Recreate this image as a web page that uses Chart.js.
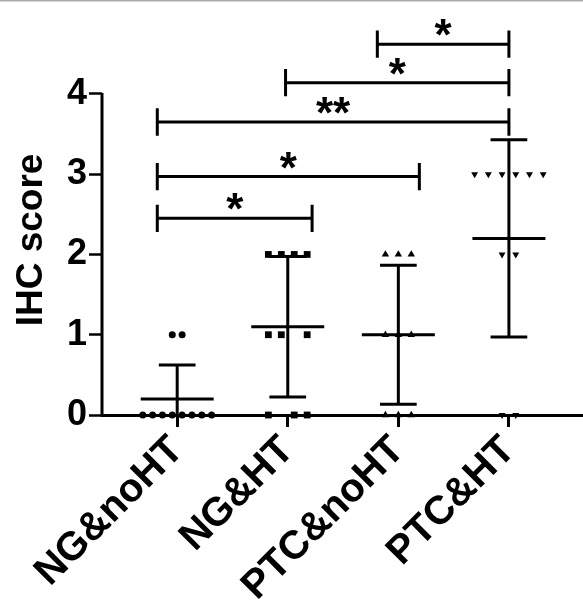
<!DOCTYPE html>
<html><head><meta charset="utf-8">
<script src="https://cdn.jsdelivr.net/npm/chart.js@4/dist/chart.umd.min.js"></script>
<style>html,body{margin:0;padding:0;background:#fff;} canvas{display:block;}</style>
</head><body>
<canvas id="c" width="583" height="610"></canvas>
<script>
// ---- data ----
const categories = ['NG&noHT', 'NG&HT', 'PTC&noHT', 'PTC&HT'];
const valuesNGnoHT  = [0, 0, 0, 0, 0, 0, 0, 0, 1, 1];
const valuesNGHT    = [2, 2, 2, 2, 1, 1, 1, 0, 0, 0];
const valuesPTCnoHT = [2, 2, 2, 1, 1, 1, 0, 0, 0];
const valuesPTCHT   = [3, 3, 3, 3, 3, 3, 2, 2, 0, 0];
const yTickValues = [0, 1, 2, 3, 4];
const sigFrom   = [-0.18, -0.18, -0.18, 0.98, 1.81];
const sigTo     = [1.22, 2.19, 3.0, 3.0, 3.0];
const sigY      = [2.45, 2.97, 3.65, 4.14, 4.62];
const sigLabels = ['*', '*', '**', '*', '*'];

// ---- layout / style ----
const groups = [valuesNGnoHT, valuesNGHT, valuesPTCnoHT, valuesPTCHT];
const jitterSlots = [
  [-3.5, -2.5, -1.5, -0.5, 0.5, 1.5, 2.5, 3.5, -0.5, 0.5],
  [-1.5, -0.5, 0.5, 1.5, -1.5, -0.5, 1.5, -1.5, 0.5, 1.5],
  [-1, 0, 1, -1, 0, 1, -1, 0, 1],
  [-2.5, -1.5, -0.5, 0.5, 1.5, 2.5, -0.5, 0.5, -0.5, 0.5]
];
const jitterStep = [0.089, 0.117, 0.117, 0.124];
const pointStyles = ['circle', 'rect', 'triangle', 'triangle'];
const pointRotations = [0, 0, 0, 180];
const pointRadii = [3.5, 4.8, 4.3, 4.0];
const meanHalf = 0.33, capHalf = 0.166, sigTick = 0.17;
const FONT = 'Liberation Sans, Arial, sans-serif';

function mean(a) { return a.reduce((s, v) => s + v, 0) / a.length; }
function sd(a) { const m = mean(a); return Math.sqrt(a.reduce((s, v) => s + (v - m) * (v - m), 0) / (a.length - 1)); }

const pointDatasets = groups.map((vals, g) => ({
  data: vals.map((v, k) => ({ x: g + jitterSlots[g][k] * jitterStep[g], y: v })),
  pointStyle: pointStyles[g],
  rotation: pointRotations[g],
  pointRadius: pointRadii[g],
  pointBackgroundColor: '#000',
  pointBorderColor: '#000',
  pointBorderWidth: 0,
  showLine: false,
  clip: false
}));

const errData = [];
groups.forEach((vals, g) => {
  const m = mean(vals), s = sd(vals);
  errData.push({ x: g - meanHalf, y: m }, { x: g + meanHalf, y: m }, { x: g, y: null });
  errData.push({ x: g, y: m - s }, { x: g, y: m + s }, { x: g, y: null });
  errData.push({ x: g - capHalf, y: m + s }, { x: g + capHalf, y: m + s }, { x: g, y: null });
  errData.push({ x: g - capHalf, y: m - s }, { x: g + capHalf, y: m - s }, { x: g, y: null });
});

const sigData = [];
sigFrom.forEach((f, i) => {
  const t = sigTo[i], y = sigY[i];
  sigData.push({ x: f, y: y - sigTick }, { x: f, y: y + sigTick }, { x: f, y: null });
  sigData.push({ x: f, y: y }, { x: t, y: y }, { x: t, y: null });
  sigData.push({ x: t, y: y - sigTick }, { x: t, y: y + sigTick }, { x: t, y: null });
});

const lineDs = (data) => ({
  data, showLine: true, spanGaps: false, pointRadius: 0, borderColor: '#000',
  borderWidth: 3, fill: false, borderCapStyle: 'butt'
});

const extras = {
  id: 'extras',
  afterDraw(chart) {
    const ctx = chart.ctx, xs = chart.scales.x, ys = chart.scales.y, ca = chart.chartArea;
    ctx.save();
    ctx.fillStyle = '#ababab';
    ctx.fillRect(0, 0, chart.width, 1.5);
    ctx.strokeStyle = '#000';
    ctx.lineWidth = 3;
    ctx.beginPath();
    ctx.moveTo(ca.left, ys.getPixelForValue(0) + 1.5);
    ctx.lineTo(ca.left, ys.getPixelForValue(yTickValues[yTickValues.length - 1]) - 1);
    ctx.stroke();
    ctx.fillStyle = '#000';
    ctx.font = 'bold 44px ' + FONT;
    ctx.textAlign = 'center';
    ctx.textBaseline = 'alphabetic';
    sigLabels.forEach((lab, i) => {
      const x = xs.getPixelForValue((sigFrom[i] + sigTo[i]) / 2);
      const y = ys.getPixelForValue(sigY[i]);
      ctx.fillText(lab, x, y + 6);
    });
    ctx.translate(42, 240);
    ctx.rotate(-Math.PI / 2);
    ctx.font = 'bold 37px ' + FONT;
    ctx.textAlign = 'center';
    ctx.fillText('IHC score', 0, 0);
    ctx.restore();
  }
};

new Chart(document.getElementById('c'), {
  type: 'scatter',
  data: { datasets: [...pointDatasets, lineDs(errData), lineDs(sigData)] },
  options: {
    responsive: false,
    animation: false,
    layout: { padding: 0, autoPadding: false },
    plugins: { legend: { display: false }, tooltip: { enabled: false } },
    scales: {
      x: {
        type: 'linear', min: -0.68, max: 3.67,
        afterBuildTicks: s => { s.ticks = categories.map((c, i) => ({ value: i })); },
        afterFit: s => { s.height = 195; s.paddingLeft = 0; s.paddingRight = 0; s.paddingTop = 0; s.paddingBottom = 0; },
        ticks: {
          callback: v => categories[v] ?? '',
          autoSkip: false, minRotation: 45, maxRotation: 45,
          color: '#000', font: { family: FONT, weight: 'bold', size: 40 }, padding: 0
        },
        grid: { drawOnChartArea: false, drawTicks: true, tickLength: 12, tickWidth: 3, tickColor: '#000' },
        border: { display: true, color: '#000', width: 3 }
      },
      y: {
        min: 0, max: 5.17,
        afterBuildTicks: s => { s.ticks = yTickValues.map(v => ({ value: v })); },
        afterFit: s => { s.width = 102; s.paddingLeft = 0; s.paddingRight = 0; s.paddingTop = 0; s.paddingBottom = 0; },
        ticks: { color: '#000', font: { family: FONT, weight: 'bold', size: 36 }, padding: 2 },
        grid: { drawOnChartArea: false, drawTicks: true, tickLength: 13, tickWidth: 2.5, tickColor: '#000' },
        border: { display: false }
      }
    }
  },
  plugins: [extras]
});
</script>
</body></html>
